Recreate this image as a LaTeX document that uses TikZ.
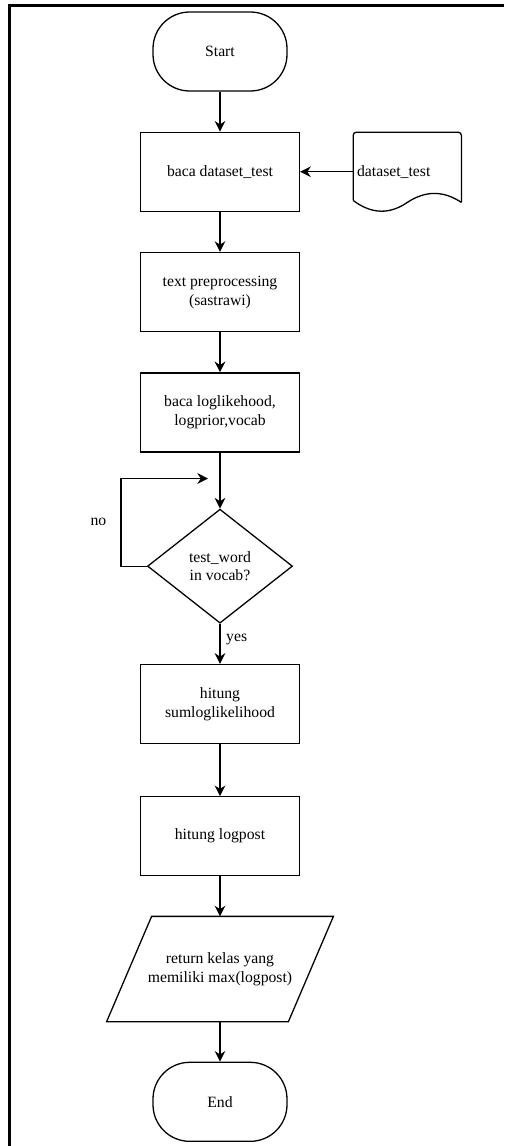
\documentclass[tikz,border=0pt]{standalone}
\usepackage{fontspec}
\setmainfont{Liberation Serif}
\usetikzlibrary{shapes,shapes.geometric,calc,positioning,arrows.meta}
\tikzset{
  node distance=1.2cm,
  flownode/.style = {align=center, inner sep=0pt, text centered, line width=1.1pt, draw=black, font=\fontsize{13.4}{16.2}\selectfont},
  flw_t/.style = {flownode, rectangle, rounded corners=1.1cm, minimum width=4.02cm, minimum height=2.37cm},
  flw_p/.style = {flownode, rectangle, minimum width=4.77cm, minimum height=2.37cm},
  flw_d/.style = {flownode, diamond, minimum width=4.35cm, minimum height=3.42cm},
  flw_io/.style = {flownode, draw=none, rectangle, minimum width=5.415cm, minimum height=3.12cm},
  flw_doc/.style = {flownode, draw=none, rectangle, align=left, text width=3.01cm, inner xsep=0.1cm, minimum height=2.34cm},
  flw_a/.style = {line width=1.1pt, -{Stealth[length=0.32cm,width=0.32cm]}},
  flw_lbl/.style = {font=\fontsize{13.4}{16.2}\selectfont}
}

\begin{document}
\begin{tikzpicture}
\useasboundingbox (0,0) rectangle (15.12,-34.38);
\draw [line width=2.2pt] (0.285,-34.38) |- (15.12,-0.165);
\node [flw_t] (start) at (6.6,-1.545) {Start};
\node [flw_p, below=of start] (readtest) {baca dataset\_test};
\node [flw_doc, right=1.59cm of readtest] (testdoc) {dataset\_test};
\node [flw_p, below=of readtest] (prep) {text preprocessing\\(sastrawi)};
\node [flw_p, below=of prep] (readmodel) {baca loglikehood,\\logprior,vocab};
\node [flw_d, below=1.68cm of readmodel] (invocab) {test\_word\\in vocab?};
\node [flw_p, below=of invocab] (sumll) {hitung\\sumloglikelihood};
\node [flw_p, below=1.56cm of sumll] (logpost) {hitung logpost};
\node [flw_io, below=of logpost] (ret) {return kelas yang\\memiliki max(logpost)};
\node [flw_t, below=of ret] (stop) {End};
\coordinate (back) at ($(invocab.north)+(-0.36,0.9)$);
\draw [line width=1.1pt] ($(ret.south west)+(-0.675,0)$) -- ($(ret.north west)+(0.675,0)$) -- ($(ret.north east)+(0.675,0)$) -- ($(ret.south east)+(-0.675,0)$) -- cycle;
\draw [line width=1.1pt, rounded corners=0.1cm] ($(testdoc.south west)+(0,0.33)$) |- (testdoc.north east) -- ($(testdoc.south east)+(0,0.27)$);
\draw [line width=1.1pt] ($(testdoc.south east)+(0,0.27)$) .. controls ($(testdoc.south east)+(-0.54,0.63)$) and ($(testdoc.south east)+(-1.08,0.63)$) .. ($(testdoc.south)+(0,0.27)$) .. controls ($(testdoc.south)+(-0.525,-0.09)$) and ($(testdoc.south)+(-1.065,-0.09)$) .. ($(testdoc.south west)+(0,0.33)$);
\draw [flw_a] (start) -- (readtest);
\draw [flw_a] (testdoc) -- (readtest);
\draw [flw_a] (readtest) -- (prep);
\draw [flw_a] (prep) -- (readmodel);
\draw [flw_a] (readmodel) -- (invocab);
\draw [flw_a] (invocab.west) -- ++(-0.78,0) |- node [flw_lbl, pos=0.25, left=0.3cm] (nolbl) {no} (back);
\draw [flw_a] (invocab) -- node [flw_lbl, pos=0.4, right=0.05cm] (yeslbl) {yes} (sumll);
\draw [flw_a] (sumll) -- (logpost);
\draw [flw_a] (logpost) -- (ret);
\draw [flw_a] (ret) -- (stop);
\end{tikzpicture}
\end{document}
